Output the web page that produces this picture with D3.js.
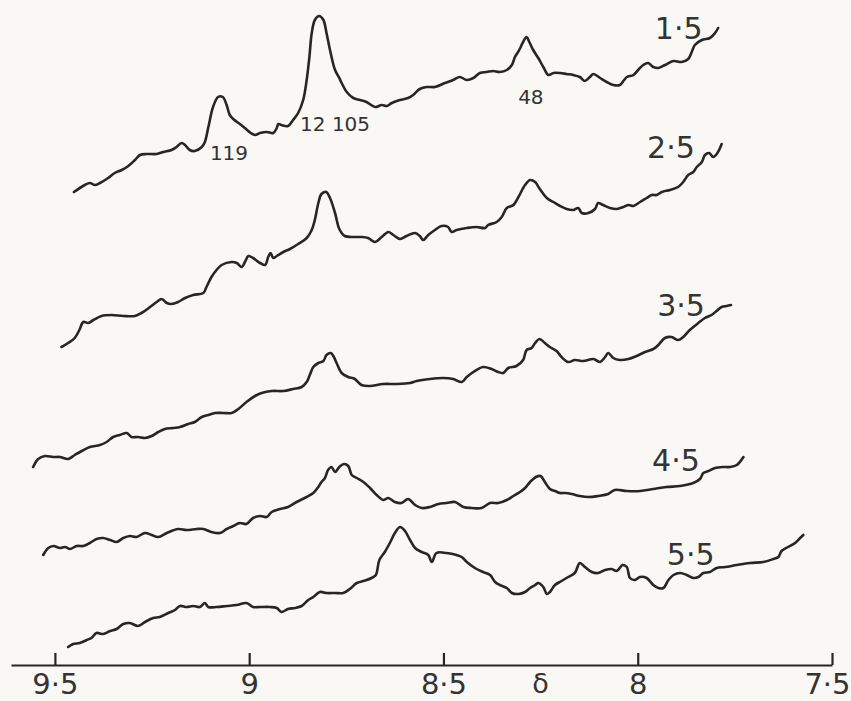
<!DOCTYPE html>
<html>
<head>
<meta charset="utf-8">
<script src="https://cdn.jsdelivr.net/npm/d3@7"></script>
<style>
    body { margin: 0; background: #f9f8f4; }
    svg { display: block; }
</style>
</head>
<body>
<script>
'use strict';

// chemical shift (ppm) and trace height (arbitrary units above the axis)
const trace15 = [
    [9.451,473],[9.423,480],[9.410,482],[9.397,480],[9.384,482],[9.363,487],[9.346,492],[9.328,495],
    [9.311,499],[9.294,505],[9.281,510],[9.264,511],[9.238,511],[9.221,513],[9.200,515],[9.187,518],
    [9.174,522],[9.165,520],[9.153,515],[9.140,514],[9.122,518],[9.114,523],[9.105,538],[9.093,558],
    [9.080,568],[9.068,568],[9.058,560],[9.050,550],[9.041,546],[9.024,541],[9.011,537],[8.996,532],
    [8.985,530],[8.972,532],[8.955,533],[8.938,532],[8.929,537],[8.925,541],[8.917,540],[8.900,539],
    [8.887,545],[8.874,552],[8.861,565],[8.852,585],[8.845,608],[8.839,632],[8.831,645],[8.820,649],
    [8.809,645],[8.801,632],[8.792,615],[8.779,595],[8.768,587],[8.762,582],[8.749,573],[8.732,567],
    [8.715,565],[8.698,563],[8.676,558],[8.659,560],[8.646,559],[8.633,562],[8.612,565],[8.591,567],
    [8.578,570],[8.561,576],[8.543,578],[8.522,578],[8.496,582],[8.475,585],[8.458,588],[8.440,585],
    [8.423,587],[8.406,592],[8.389,593],[8.372,594],[8.355,593],[8.337,595],[8.324,600],[8.316,608],
    [8.305,615],[8.295,623],[8.286,628],[8.279,623],[8.269,615],[8.256,607],[8.243,598],[8.230,590],
    [8.217,592],[8.200,592],[8.183,591],[8.166,590],[8.149,588],[8.136,584],[8.123,588],[8.114,591],
    [8.097,587],[8.080,583],[8.063,580],[8.046,580],[8.035,585],[8.028,588],[8.011,590],[7.999,595],
    [7.986,600],[7.973,602],[7.960,598],[7.947,597],[7.930,600],[7.908,604],[7.887,603],[7.870,606],
    [7.861,613],[7.853,620],[7.835,625],[7.814,627],[7.801,632],[7.793,637]
];

const trace25 = [
    [9.483,318],[9.466,322],[9.449,327],[9.437,335],[9.427,343],[9.414,342],[9.401,345],[9.380,349],
    [9.354,350],[9.324,349],[9.294,349],[9.277,352],[9.255,358],[9.238,363],[9.225,366],[9.212,362],
    [9.200,361],[9.183,363],[9.165,367],[9.144,370],[9.118,372],[9.110,378],[9.097,388],[9.084,395],
    [9.071,400],[9.045,403],[9.032,402],[9.019,398],[9.011,403],[9.002,409],[8.990,407],[8.972,402],
    [8.959,400],[8.951,408],[8.945,412],[8.938,407],[8.929,409],[8.912,413],[8.895,416],[8.874,421],
    [8.852,427],[8.839,435],[8.831,445],[8.822,462],[8.814,471],[8.802,473],[8.792,467],[8.779,452],
    [8.768,436],[8.754,429],[8.728,428],[8.711,428],[8.694,427],[8.676,423],[8.659,428],[8.642,433],
    [8.629,430],[8.612,426],[8.595,429],[8.573,432],[8.561,429],[8.552,425],[8.539,430],[8.522,435],
    [8.505,439],[8.488,438],[8.479,433],[8.466,435],[8.440,437],[8.415,438],[8.393,437],[8.385,440],
    [8.363,443],[8.350,448],[8.337,457],[8.320,460],[8.307,468],[8.290,480],[8.277,485],[8.264,483],
    [8.252,476],[8.234,467],[8.217,463],[8.200,459],[8.183,456],[8.166,455],[8.153,457],[8.144,452],
    [8.127,452],[8.110,456],[8.102,462],[8.089,460],[8.071,457],[8.054,456],[8.037,458],[8.024,460],
    [8.011,459],[7.994,463],[7.977,467],[7.964,470],[7.951,470],[7.938,473],[7.917,475],[7.896,478],
    [7.883,483],[7.870,490],[7.857,493],[7.848,498],[7.835,503],[7.827,510],[7.816,512],[7.806,508],
    [7.795,512],[7.784,521]
];

const trace35 = [
    [9.556,198],[9.543,206],[9.526,209],[9.504,208],[9.487,208],[9.466,206],[9.449,210],[9.431,214],
    [9.410,218],[9.384,220],[9.367,223],[9.350,228],[9.333,230],[9.315,232],[9.303,228],[9.286,228],
    [9.268,227],[9.251,229],[9.234,233],[9.217,236],[9.196,237],[9.178,238],[9.157,241],[9.140,243],
    [9.122,248],[9.105,250],[9.088,252],[9.067,252],[9.045,252],[9.028,256],[9.007,263],[8.985,269],
    [8.968,272],[8.942,274],[8.912,274],[8.887,276],[8.865,278],[8.852,283],[8.844,290],[8.835,298],
    [8.822,302],[8.809,304],[8.801,310],[8.790,312],[8.782,308],[8.775,302],[8.762,292],[8.745,288],
    [8.728,286],[8.711,280],[8.689,279],[8.655,281],[8.621,281],[8.586,282],[8.569,284],[8.535,286],
    [8.501,287],[8.475,286],[8.453,283],[8.440,288],[8.423,293],[8.398,298],[8.376,296],[8.359,293],
    [8.346,292],[8.333,297],[8.312,299],[8.295,305],[8.286,315],[8.273,317],[8.264,322],[8.253,326],
    [8.239,322],[8.226,318],[8.209,314],[8.196,308],[8.179,303],[8.162,305],[8.140,304],[8.114,306],
    [8.097,303],[8.084,308],[8.076,312],[8.063,307],[8.046,305],[8.024,306],[8.003,309],[7.981,313],
    [7.960,316],[7.947,320],[7.930,327],[7.913,328],[7.896,325],[7.883,328],[7.866,335],[7.844,342],
    [7.827,347],[7.810,350],[7.797,354],[7.784,358],[7.771,359],[7.760,360]
];

const trace45 = [
    [9.530,110],[9.517,117],[9.504,119],[9.487,117],[9.474,118],[9.461,116],[9.444,119],[9.427,119],
    [9.410,122],[9.393,126],[9.376,127],[9.358,125],[9.341,123],[9.324,127],[9.307,129],[9.290,128],
    [9.268,132],[9.251,130],[9.234,128],[9.212,132],[9.183,136],[9.161,135],[9.135,136],[9.118,136],
    [9.097,133],[9.075,132],[9.058,136],[9.041,139],[9.024,142],[9.007,141],[8.990,147],[8.972,149],
    [8.955,148],[8.942,153],[8.921,156],[8.900,158],[8.878,163],[8.852,168],[8.835,172],[8.822,178],
    [8.814,183],[8.805,187],[8.797,195],[8.788,198],[8.779,193],[8.768,198],[8.756,201],[8.745,199],
    [8.736,190],[8.723,187],[8.706,183],[8.689,177],[8.672,170],[8.655,165],[8.642,167],[8.625,163],
    [8.608,162],[8.591,166],[8.573,160],[8.556,157],[8.535,158],[8.513,161],[8.492,162],[8.470,163],
    [8.449,158],[8.427,157],[8.402,157],[8.380,162],[8.359,162],[8.337,165],[8.320,169],[8.303,173],
    [8.290,177],[8.277,183],[8.262,188],[8.250,189],[8.239,183],[8.226,176],[8.213,174],[8.200,172],
    [8.187,172],[8.170,171],[8.149,169],[8.127,168],[8.102,169],[8.076,171],[8.059,175],[8.028,174],
    [7.994,174],[7.960,176],[7.926,178],[7.891,179],[7.857,182],[7.840,186],[7.831,192],[7.818,194],
    [7.801,197],[7.780,198],[7.763,198],[7.745,200],[7.728,208]
];

const trace55 = [
    [9.466,18],[9.453,21],[9.436,22],[9.418,25],[9.406,27],[9.393,32],[9.376,31],[9.358,34],
    [9.341,36],[9.324,41],[9.307,42],[9.286,39],[9.268,43],[9.247,47],[9.230,48],[9.208,52],
    [9.191,55],[9.178,59],[9.161,58],[9.144,59],[9.127,58],[9.114,62],[9.105,58],[9.084,58],
    [9.058,59],[9.032,60],[9.007,62],[8.990,58],[8.972,58],[8.947,58],[8.929,57],[8.917,53],
    [8.900,56],[8.882,57],[8.865,59],[8.848,65],[8.835,68],[8.818,73],[8.801,72],[8.779,72],
    [8.758,72],[8.741,76],[8.723,82],[8.706,84],[8.685,87],[8.674,90],[8.665,105],[8.651,113],
    [8.638,122],[8.625,132],[8.612,138],[8.599,134],[8.586,125],[8.573,117],[8.556,113],[8.539,110],
    [8.530,103],[8.518,112],[8.492,112],[8.466,110],[8.453,108],[8.440,103],[8.419,97],[8.398,93],
    [8.380,90],[8.367,83],[8.355,80],[8.337,77],[8.324,72],[8.307,71],[8.290,73],[8.277,77],
    [8.264,80],[8.256,82],[8.243,78],[8.234,71],[8.226,73],[8.213,80],[8.196,84],[8.179,88],
    [8.162,92],[8.149,102],[8.136,98],[8.118,93],[8.102,92],[8.084,95],[8.067,96],[8.054,94],
    [8.039,100],[8.028,98],[8.020,87],[8.007,85],[7.994,88],[7.977,87],[7.960,80],[7.947,77],
    [7.934,77],[7.921,85],[7.908,90],[7.891,92],[7.874,90],[7.857,87],[7.844,88],[7.831,92],
    [7.814,93],[7.797,97],[7.775,98],[7.745,100],[7.711,102],[7.677,103],[7.651,106],[7.638,108],
    [7.630,114],[7.613,118],[7.595,122],[7.582,127],[7.574,130]
];

// trace names and where their labels sit (ppm, height)
const traceNames = ["1·5", "2·5", "3·5", "4·5", "5·5"];
const traceLabelPos = [[7.956, 626], [7.976, 507], [7.950, 349], [7.963, 194], [7.925, 100]];

// peak numbers written under the top trace (ppm, height, anchor)
const peakNames = ["119", "12 105", "48"];
const peakLabelPos = [[9.052, 505, "middle"], [8.869, 534, "start"], [8.275, 561, "middle"]];

// axis ticks
const tickValues = [9.5, 9, 8.5, 8, 7.5];
const tickLabels = ["9·5", "9", "8·5", "8", "7·5"];

(function() {

    const width = 851,
        height = 701,
        baseY = 665;

    const ink = "#262622";

    const svgContainer = d3.select("body")
        .append("svg")
        .attr("width", width)
        .attr("height", height);

    // paper
    svgContainer.append("rect")
        .attr("width", width)
        .attr("height", height)
        .attr("fill", "#f9f8f4");

    // shift decreases to the right, axis line starts a bit left of 9.5
    const xScale = d3.scaleLinear()
        .domain([9.613, 7.5])
        .range([11, 832]);

    const yScale = d3.scaleLinear()
        .domain([0, baseY])
        .range([baseY, 0]);

    const line = d3.line()
        .x((d) => xScale(d[0]))
        .y((d) => yScale(d[1]))
        .curve(d3.curveCatmullRom.alpha(0.5));

    const traces = [trace15, trace25, trace35, trace45, trace55];

    // draw the spectra
    svgContainer.selectAll(".trace")
        .data(traces)
        .enter()
        .append("path")
        .attr("class", "trace")
        .attr("d", line)
        .attr("fill", "none")
        .attr("stroke", ink)
        .attr("stroke-width", 2.6)
        .attr("stroke-linejoin", "round")
        .attr("stroke-linecap", "round");

    // trace labels
    svgContainer.selectAll(".traceLabel")
        .data(traceNames)
        .enter()
        .append("text")
        .attr("class", "traceLabel")
        .attr("x", (d, i) => xScale(traceLabelPos[i][0]))
        .attr("y", (d, i) => yScale(traceLabelPos[i][1]))
        .attr("font-family", "DejaVu Sans")
        .attr("font-size", "30px")
        .attr("fill", "#333")
        .text((d) => d);

    // peak numbers
    svgContainer.selectAll(".peakLabel")
        .data(peakNames)
        .enter()
        .append("text")
        .attr("class", "peakLabel")
        .attr("x", (d, i) => xScale(peakLabelPos[i][0]))
        .attr("y", (d, i) => yScale(peakLabelPos[i][1]))
        .attr("text-anchor", (d, i) => peakLabelPos[i][2])
        .attr("font-family", "DejaVu Sans")
        .attr("font-size", "20px")
        .attr("fill", "#333")
        .text((d) => d);

    // x axis with ticks pointing up
    const xAxis = d3.axisBottom(xScale)
        .tickValues(tickValues)
        .tickFormat((d, i) => tickLabels[i])
        .tickSizeInner(-12)
        .tickSizeOuter(0)
        .tickPadding(8);

    const axisG = svgContainer.append("g")
        .attr("transform", "translate(0," + baseY + ")")
        .call(xAxis);

    axisG.select(".domain")
        .attr("stroke", ink)
        .attr("stroke-width", 2.2);
    axisG.selectAll(".tick line")
        .attr("stroke", ink)
        .attr("stroke-width", 2.2);
    axisG.selectAll(".tick text")
        .attr("font-family", "DejaVu Sans")
        .attr("font-size", "29px")
        .attr("fill", "#333")
        // keep the last label inside the page
        .attr("text-anchor", (d, i) => i === tickValues.length - 1 ? "end" : "middle")
        .attr("x", (d, i) => i === tickValues.length - 1 ? 18 : 0);

    // delta symbol
    svgContainer.append("text")
        .attr("x", xScale(8.25))
        .attr("y", 693)
        .attr("text-anchor", "middle")
        .attr("font-family", "DejaVu Sans")
        .attr("font-size", "27px")
        .attr("fill", "#333")
        .text("δ");

})();
</script>
</body>
</html>
